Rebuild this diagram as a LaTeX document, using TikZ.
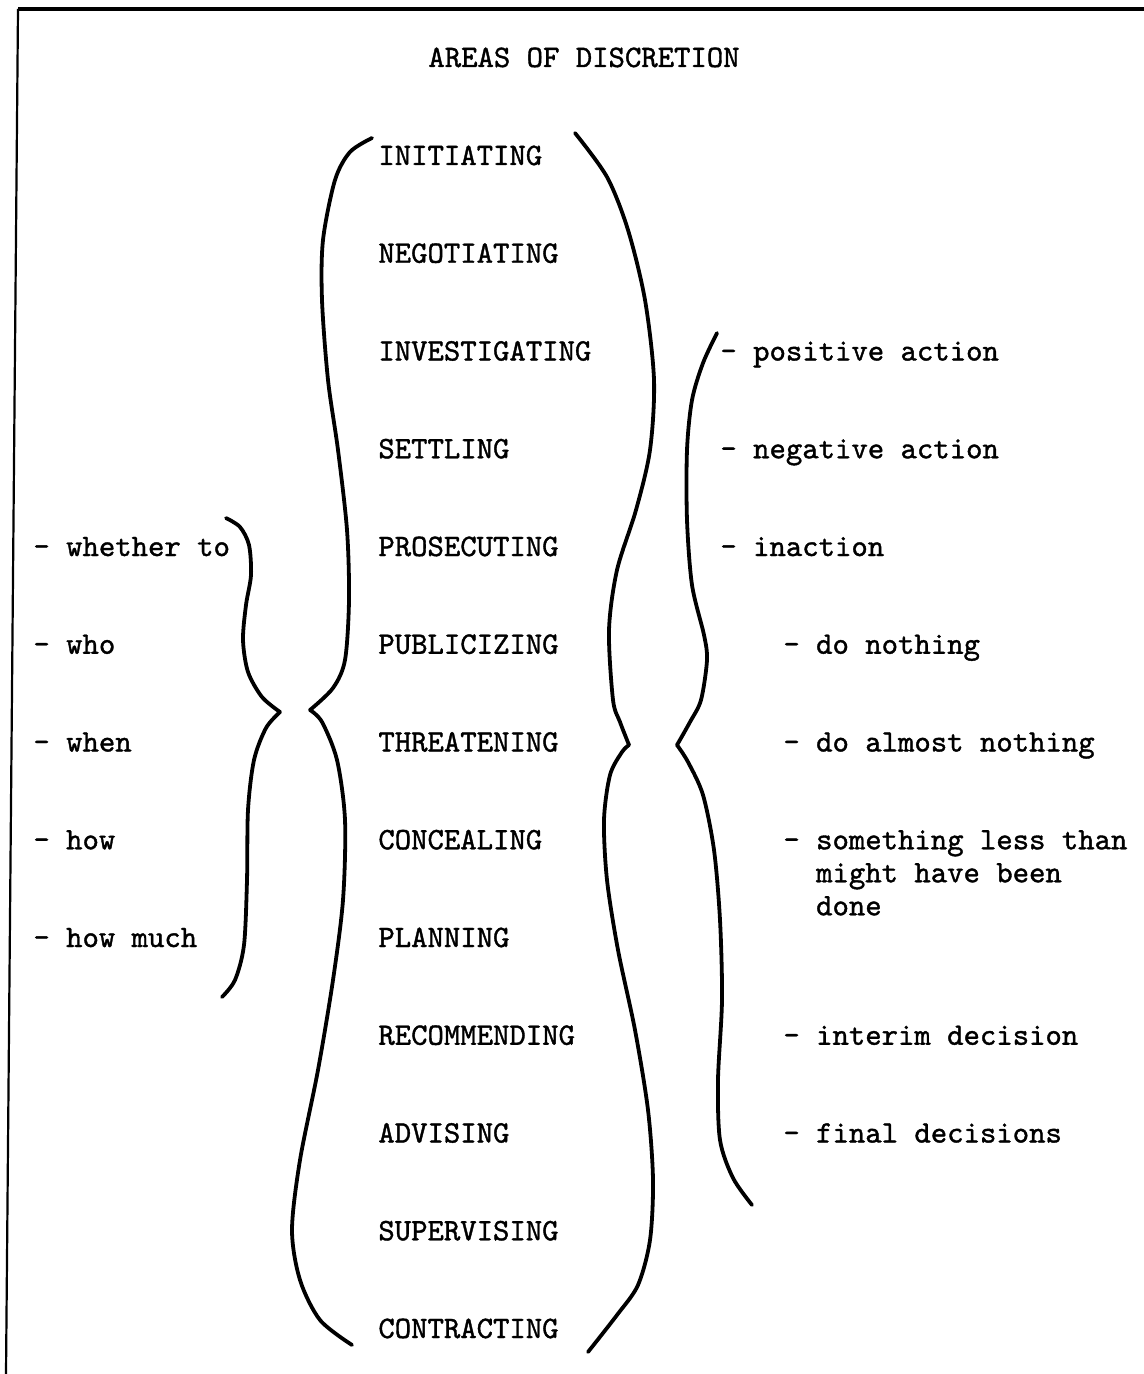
\documentclass[tikz,border=0pt]{standalone}
\usepackage{fontspec}
\setmonofont{lmmono10-regular.otf}[FakeBold=1.2]
\newcommand\typed{\ttfamily\fontsize{15.6}{16.5}\selectfont}

\begin{document}
\begin{tikzpicture}[x=0.5pt,y=-0.5pt,
  item/.style={font=\typed,anchor=base west,inner sep=0pt},
  brace/.style={line width=1.9pt,line cap=round,line join=miter}]
 \useasboundingbox (0,0) rectangle (1144,1374);
 \draw[line width=1.7pt] (18,9) -- (1144,9);
 \draw[line width=1.1pt] (18,9) -- (6,1374);
 \node[item] (title) at (428,67) {AREAS OF DISCRETION};
 \foreach \w [count=\i] in {INITIATING,NEGOTIATING,INVESTIGATING,SETTLING,PROSECUTING,
   PUBLICIZING,THREATENING,CONCEALING,PLANNING,RECOMMENDING,ADVISING,SUPERVISING,CONTRACTING}
   \node[item] (m\i) at (378,{165+97.75*(\i-1)}) {\w};
 \foreach \w [count=\i from 5] in {whether to,who,when,how,how much}
   \node[item] (l\i) at (33,{165+97.75*(\i-1)}) {- \w};
 \foreach \w [count=\i from 3] in {positive action,negative action,inaction}
   \node[item] (r\i) at (720,{165+97.75*(\i-1)}) {- \w};
 \foreach \w/\i in {do nothing/6,do almost nothing/7,interim decision/10,final decisions/11}
   \node[item] (s\i) at (783,{165+97.75*(\i-1)}) {- \w};
 % three lines, placed by the baseline of the last one
 \node[item,align=left] (s8) at (783,{165+97.75*7+66})
   {- something less than\\\phantom{- }might have been\\\phantom{- }done};
 % braces
 \draw[brace] plot[smooth] coordinates {(226,518) (240,527) (249,545) (251,575) (246,605)
   (243,640) (248,672) (262,697) (280,712)};
 \draw[brace] plot[smooth] coordinates {(280,712) (266,728) (254,760) (248,810) (247,880)
   (244,945) (235,980) (222,997)};
 \draw[brace] plot[smooth] coordinates {(372,138) (350,152) (335,180) (323,240) (322,300)
   (328,380) (338,450) (347,530) (349,600) (345,660) (333,688) (310,710)};
 \draw[brace] plot[smooth] coordinates {(310,710) (322,722) (337,760) (345,820) (343,900)
   (333,980) (318,1070) (300,1160) (292,1230) (300,1280) (320,1320) (352,1345)};
 \draw[brace] plot[smooth] coordinates {(575,133) (607,177) (628,230) (645,300) (654,380)
   (650,450) (636,510) (617,570) (609,630) (613,700) (620,722) (629,745)};
 \draw[brace] plot[smooth] coordinates {(629,745) (622,752) (610,775) (604,820) (607,880)
   (618,950) (635,1030) (648,1110) (653,1180) (650,1240) (638,1285) (617,1315) (588,1352)};
 \draw[brace] plot[smooth] coordinates {(717,333) (703,363) (692,400) (687,450) (687,520)
   (692,585) (704,635) (707,660) (701,700) (690,722) (677,745)};
 \draw[brace] plot[smooth] coordinates {(677,745) (688,762) (703,795) (714,850) (720,920)
   (722,1000) (718,1080) (720,1140) (733,1178) (752,1205)};
\end{tikzpicture}
\end{document}
